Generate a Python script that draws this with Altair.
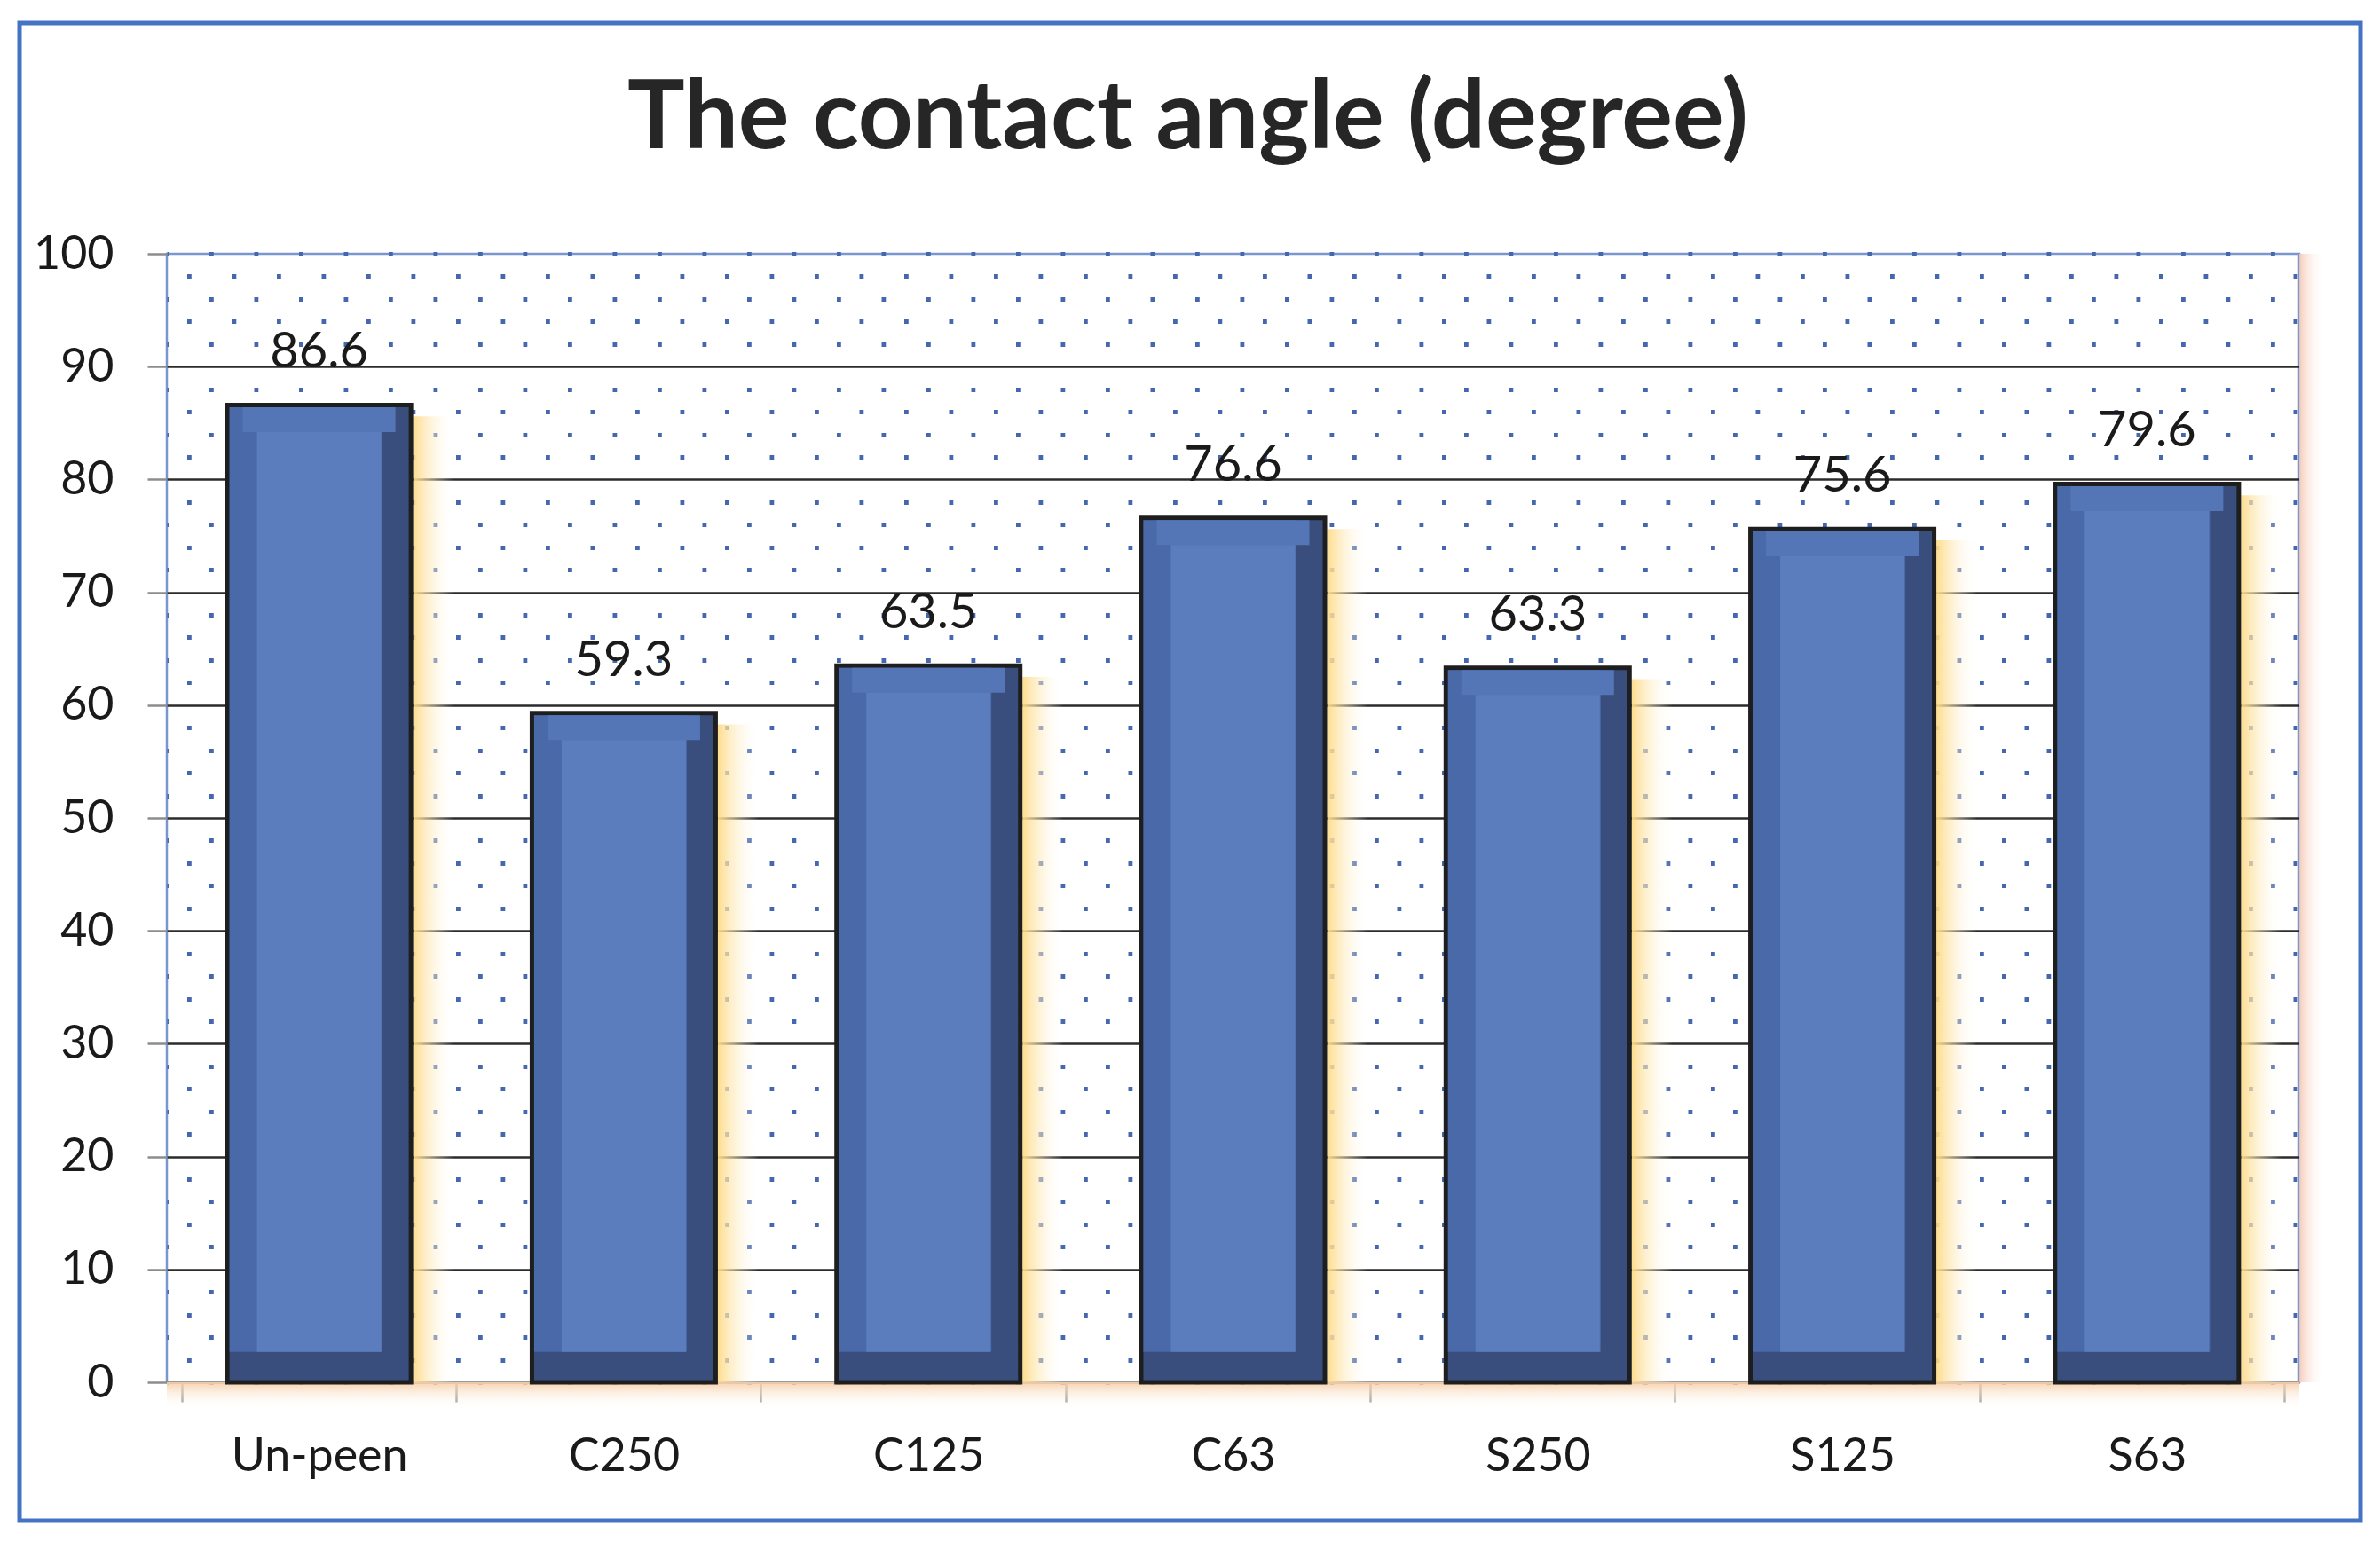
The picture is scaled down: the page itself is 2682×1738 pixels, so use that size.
import altair as alt
import pandas as pd

categories = ["Un-peen", "C250", "C125", "C63", "S250", "S125", "S63"]
values = [86.6, 59.3, 63.5, 76.6, 63.3, 75.6, 79.6]
y_ticks = list(range(0, 101, 2))
title_text = "The contact angle (degree)"

df = pd.DataFrame({"cat": categories, "val": values})

W, H = 2403, 1272
FONT = "Lato"

is_major = "datum.value % 10 == 0 && datum.value > 0 && datum.value < 100"
y_axis = alt.Axis(
    values=y_ticks,
    labelExpr="datum.value % 10 == 0 ? datum.label : ''",
    grid=True,
    gridColor={"condition": {"test": is_major, "value": "#2b2b2b"}, "value": "#4567B0"},
    gridWidth={"condition": {"test": is_major, "value": 2.5}, "value": 4.8},
    gridDash={"condition": {"test": is_major, "value": []}, "value": [4.8, 45.7]},
    gridDashOffset={"condition": {"test": "datum.value % 4 == 0", "value": 3}, "value": 28},
    tickColor="#8c8c8c",
    tickSize=22,
    tickWidth=2.5,
    tickOpacity={"condition": {"test": "datum.value % 10 == 0", "value": 1}, "value": 0},
    domain=False,
    labelFont=FONT,
    labelFontSize=52,
    labelColor="#1a1a1a",
    labelPadding=38,
    title=None,
)
x_axis = alt.Axis(
    tickBand="extent",
    tickSize=22,
    tickWidth=2.5,
    tickColor="#9a9a9a",
    domainColor="#9a9a9a",
    domainWidth=3,
    labelFont=FONT,
    labelFontSize=52,
    labelColor="#1a1a1a",
    labelPadding=36,
    labelAngle=0,
    labelLimit=500,
    grid=False,
    title=None,
)
y_scale = alt.Scale(domain=[0, 100], nice=False)

base = alt.Chart(df).transform_calculate(
    top_in="datum.val - 0.2",
    face_top="datum.val - 2.4",
    bev_bot="2.7",
    glow_top="datum.val - 1.0",
).encode(
    x=alt.X("cat:N", sort=categories, axis=x_axis),
)

one = alt.Chart(pd.DataFrame({"a": [0]}))

frame = one.mark_rect(fill="transparent", stroke="#4472C4", strokeWidth=5).encode(
    x=alt.value(-166), x2=alt.value(2472), y=alt.value(-260), y2=alt.value(1428)
)

bottom_glow = one.mark_rect(
    color=alt.LinearGradient(
        gradient="linear",
        stops=[alt.GradientStop(color="rgba(247,205,165,0.9)", offset=0),
               alt.GradientStop(color="rgba(255,255,255,0)", offset=1)],
        x1=0, x2=0, y1=0, y2=1,
    )
).encode(x=alt.value(0), x2=alt.value(W), y=alt.value(H), y2=alt.value(H + 30))

right_glow = one.mark_rect(
    color=alt.LinearGradient(
        gradient="linear",
        stops=[alt.GradientStop(color="rgba(245,200,180,0.9)", offset=0),
               alt.GradientStop(color="rgba(255,255,255,0)", offset=1)],
        x1=0, x2=1, y1=0, y2=0,
    )
).encode(x=alt.value(W), x2=alt.value(W + 28), y=alt.value(0), y2=alt.value(H))

bar_glow = base.mark_bar(
    width=46, xOffset=129,
    color=alt.LinearGradient(
        gradient="linear",
        stops=[alt.GradientStop(color="rgba(253,218,135,0.95)", offset=0),
               alt.GradientStop(color="rgba(255,255,255,0)", offset=1)],
        x1=0, x2=1, y1=0, y2=0,
    ),
).encode(
    y=alt.Y("glow_top:Q", scale=y_scale, axis=y_axis),
    y2=alt.datum(0),
)

bar_outer = base.mark_bar(width=207, fill="#3A4E7D", stroke="#1e1e1e", strokeWidth=5).encode(
    y=alt.Y("val:Q", scale=y_scale, axis=y_axis),
    y2=alt.datum(0),
)
bar_left = base.mark_bar(width=172, xOffset=-15, fill="#4A69A9").encode(
    y=alt.Y("top_in:Q", scale=y_scale, axis=y_axis),
    y2="bev_bot:Q",
)
bar_top = base.mark_bar(width=172, fill="#5576B6").encode(
    y=alt.Y("top_in:Q", scale=y_scale, axis=y_axis),
    y2="face_top:Q",
)
bar_face = base.mark_bar(width=140, fill="#5B7DBE").encode(
    y=alt.Y("face_top:Q", scale=y_scale, axis=y_axis),
    y2="bev_bot:Q",
)

labels = base.mark_text(
    baseline="bottom", dy=-30, font=FONT, fontSize=56, color="#1a1a1a"
).encode(
    y=alt.Y("val:Q", scale=y_scale, axis=y_axis),
    text=alt.Text("val:Q", format=".1f"),
)

chart = alt.layer(
    frame, bottom_glow, right_glow, bar_glow, bar_outer, bar_left, bar_top, bar_face, labels
).properties(
    width=W,
    height=H,
    title=alt.TitleParams(
        title_text, font=FONT, fontSize=108, fontWeight="bold", color="#262626",
        anchor="middle", offset=0, dy=251, dx=-51, baseline="alphabetic",
    ),
    autosize=alt.AutoSizeParams(type="none"),
    padding={"left": 180, "top": 278, "right": 83, "bottom": 172},
    background="white",
).configure_view(stroke="#7A96CE", strokeWidth=2.5)

chart.save("out.html", embed_options={"renderer": "svg", "actions": False})
